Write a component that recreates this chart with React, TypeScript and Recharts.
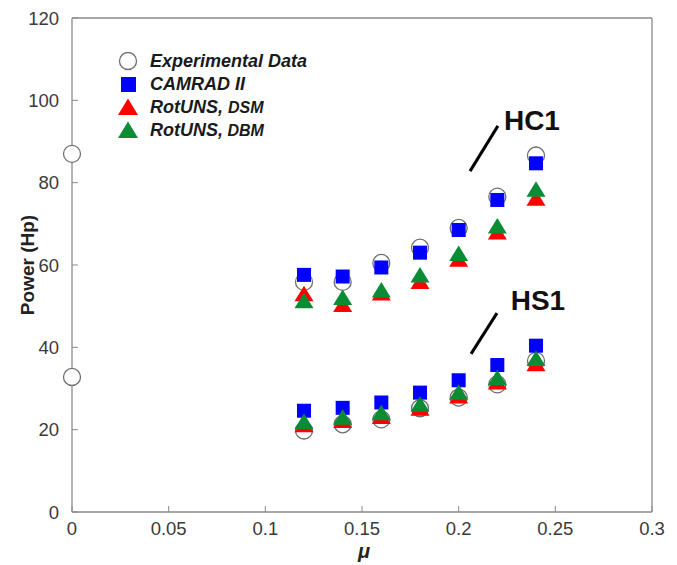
import React from 'react';
import { ScatterChart, Scatter, XAxis, YAxis, Legend, ReferenceLine, ReferenceDot, Label } from 'recharts';

// advance ratio points shared by every series
const MU = [0.12, 0.14, 0.16, 0.18, 0.2, 0.22, 0.24];

// HC1 case
const HC1_EXP = [55.9, 55.9, 60.5, 64.2, 69.0, 76.6, 86.6];
const HC1_CAMRAD = [57.6, 57.2, 59.4, 63.0, 68.5, 75.8, 84.7];
const HC1_DSM = [53.0, 50.4, 53.2, 56.0, 61.4, 68.0, 76.2];
const HC1_DBM = [51.3, 52.1, 53.9, 57.6, 62.8, 69.5, 78.4];

// HS1 case
const HS1_EXP = [19.8, 21.3, 22.5, 25.2, 27.8, 31.0, 36.7];
const HS1_CAMRAD = [24.6, 25.3, 26.6, 29.0, 32.0, 35.7, 40.4];
const HS1_DSM = [21.2, 22.2, 23.2, 25.2, 28.2, 31.6, 36.0];
const HS1_DBM = [22.0, 23.0, 24.1, 26.2, 29.1, 32.6, 37.3];

// two experimental points sitting on the y axis
const EXP_EDGE_MU = [0, 0];
const EXP_EDGE_POWER = [87.0, 32.8];

const X_TICKS = [0, 0.05, 0.1, 0.15, 0.2, 0.25, 0.3];
const Y_TICKS = [0, 20, 40, 60, 80, 100, 120];

// annotation placement (data units)
const HC1_LINE: [number, number][] = [[0.2059, 82.8], [0.2203, 93.8]];
const HS1_LINE: [number, number][] = [[0.2064, 38.4], [0.2198, 48.3]];
const HC1_TEXT: [number, number] = [0.2379, 95.0];
const HS1_TEXT: [number, number] = [0.241, 51.3];

const AXIS = '#8a8a8a';
const TICK_TEXT = '#3a3a3a';
const BLUE = '#0000ff';
const RED = '#ff0000';
const GREEN = '#0a8c34';

const pairs = (xs: number[], ys: number[]) => xs.map((x, i) => ({ mu: x, power: ys[i] }));

const expData = [...pairs(MU, HC1_EXP), ...pairs(MU, HS1_EXP), ...pairs(EXP_EDGE_MU, EXP_EDGE_POWER)];
const camradData = [...pairs(MU, HC1_CAMRAD), ...pairs(MU, HS1_CAMRAD)];
const dsmData = [...pairs(MU, HC1_DSM), ...pairs(MU, HS1_DSM)];
const dbmData = [...pairs(MU, HC1_DBM), ...pairs(MU, HS1_DBM)];

const CircleMark = (p: any) => (
  <circle cx={p.cx} cy={p.cy} r={8.5} fill="#fff" stroke="#6e6e6e" strokeWidth={1.3} />
);
const SquareMark = (p: any) => <rect x={p.cx - 7} y={p.cy - 7} width={14} height={14} fill={BLUE} />;
const triangleMark = (color: string) => (p: any) => (
  <polygon
    points={`${p.cx},${p.cy - 8} ${p.cx - 9.5},${p.cy + 7.5} ${p.cx + 9.5},${p.cy + 7.5}`}
    fill={color}
  />
);

const legendText = { fontSize: 18, fontWeight: 'bold' as const, fontStyle: 'italic' as const, fill: '#1a1a1a' };

function LegendBox() {
  const tri = (cy: number) => `18,${cy - 8.5} 8,${cy + 8} 28,${cy + 8}`;
  return (
    <svg width={220} height={100} style={{ display: 'block' }}>
      <circle cx={18} cy={13} r={8.5} fill="#fff" stroke="#6e6e6e" strokeWidth={1.3} />
      <text x={40} y={13} dominantBaseline="central" {...legendText}>Experimental Data</text>
      <rect x={11} y={29} width={15} height={15} fill={BLUE} />
      <text x={40} y={36} dominantBaseline="central" {...legendText}>CAMRAD II</text>
      <polygon points={tri(59)} fill={RED} />
      <text x={40} y={59} dominantBaseline="central" {...legendText}>
        RotUNS, <tspan fontSize={16}>DSM</tspan>
      </text>
      <polygon points={tri(82)} fill={GREEN} />
      <text x={40} y={82} dominantBaseline="central" {...legendText}>
        RotUNS,<tspan fontSize={16}> DBM</tspan>
      </text>
    </svg>
  );
}

const annotation = (value: string) => (props: any) => {
  const vb = props.viewBox || {};
  const cx = vb.cx ?? vb.x + (vb.width || 0) / 2;
  const cy = vb.cy ?? vb.y + (vb.height || 0) / 2;
  return (
    <text x={cx} y={cy} textAnchor="middle" dominantBaseline="central" fontSize={28} fontWeight="bold" fill="#111">
      {value}
    </text>
  );
};

export default function App() {
  return (
    <div
      style={{
        position: 'absolute',
        left: 0,
        top: 0,
        width: 677,
        height: 565,
        background: '#fff',
        fontFamily: '"Liberation Sans", Arial, sans-serif',
      }}
    >
      <ScatterChart width={677} height={565} margin={{ top: 17, right: 24, bottom: 13, left: 12 }}>
        <XAxis
          dataKey="mu"
          type="number"
          domain={[0, 0.3]}
          ticks={X_TICKS}
          height={40}
          tickSize={-6}
          tickMargin={16}
          stroke={AXIS}
          axisLine={{ stroke: AXIS, strokeWidth: 1.3 }}
          tickLine={{ stroke: AXIS }}
          tick={{ fill: TICK_TEXT, fontSize: 18.5 }}
          interval={0}
        >
          <Label
            content={(props: any) => {
              const vb = props.viewBox;
              return (
                <text
                  x={vb.x + vb.width / 2 + 2}
                  y={vb.y + 39}
                  textAnchor="middle"
                  dominantBaseline="central"
                  fontSize={20}
                  fontWeight="bold"
                  fontStyle="italic"
                  fill="#222"
                >
                  μ
                </text>
              );
            }}
          />
        </XAxis>
        <YAxis
          dataKey="power"
          type="number"
          domain={[0, 120]}
          ticks={Y_TICKS}
          width={60}
          tickSize={-6}
          tickMargin={19}
          stroke={AXIS}
          axisLine={{ stroke: AXIS, strokeWidth: 1.3 }}
          tickLine={{ stroke: AXIS }}
          tick={{ fill: TICK_TEXT, fontSize: 18.5 }}
          interval={0}
        >
          <Label
            content={(props: any) => {
              const vb = props.viewBox;
              const cx = vb.x + 15;
              const cy = vb.y + vb.height / 2;
              return (
                <text
                  x={cx}
                  y={cy}
                  transform={`rotate(-90 ${cx} ${cy})`}
                  textAnchor="middle"
                  dominantBaseline="central"
                  fontSize={19}
                  fontWeight="bold"
                  fill="#222"
                >
                  Power (Hp)
                </text>
              );
            }}
          />
        </YAxis>
        {/* box edges: top and right axes carry inward ticks only */}
        <XAxis
          xAxisId="top"
          orientation="top"
          type="number"
          domain={[0, 0.3]}
          ticks={X_TICKS}
          height={1}
          tick={false}
          tickSize={-6}
          axisLine={{ stroke: AXIS, strokeWidth: 1.3 }}
          tickLine={{ stroke: AXIS }}
          allowDataOverflow
        />
        <YAxis
          yAxisId="right"
          orientation="right"
          type="number"
          domain={[0, 120]}
          ticks={Y_TICKS}
          width={1}
          tick={false}
          tickSize={-6}
          axisLine={{ stroke: AXIS, strokeWidth: 1.3 }}
          tickLine={{ stroke: AXIS }}
          allowDataOverflow
        />

        <Scatter name="Experimental Data" data={expData} shape={CircleMark} isAnimationActive={false} />
        <Scatter name="CAMRAD II" data={camradData} shape={SquareMark} isAnimationActive={false} />
        <Scatter name="RotUNS, DSM" data={dsmData} shape={triangleMark(RED)} isAnimationActive={false} />
        <Scatter name="RotUNS, DBM" data={dbmData} shape={triangleMark(GREEN)} isAnimationActive={false} />

        <ReferenceLine
          segment={[{ x: HC1_LINE[0][0], y: HC1_LINE[0][1] }, { x: HC1_LINE[1][0], y: HC1_LINE[1][1] }]}
          stroke="#000"
          strokeWidth={3}
        />
        <ReferenceLine
          segment={[{ x: HS1_LINE[0][0], y: HS1_LINE[0][1] }, { x: HS1_LINE[1][0], y: HS1_LINE[1][1] }]}
          stroke="#000"
          strokeWidth={3}
        />
        <ReferenceDot x={HC1_TEXT[0]} y={HC1_TEXT[1]} r={0} stroke="none" fill="none" label={{ content: annotation('HC1') }} />
        <ReferenceDot x={HS1_TEXT[0]} y={HS1_TEXT[1]} r={0} stroke="none" fill="none" label={{ content: annotation('HS1') }} />

        <Legend
          layout="vertical"
          align="center"
          verticalAlign="middle"
          content={LegendBox}
          wrapperStyle={{ position: 'absolute', left: 110, top: 48, width: 220 }}
        />
      </ScatterChart>
    </div>
  );
}
